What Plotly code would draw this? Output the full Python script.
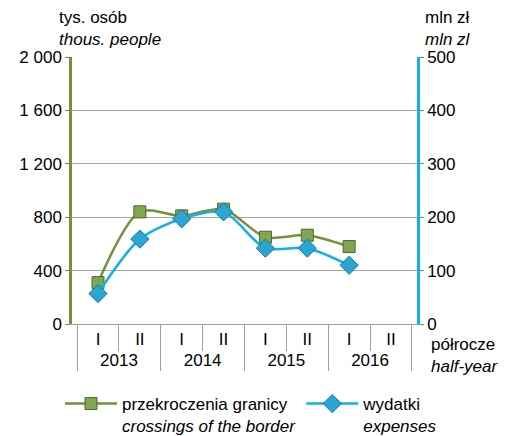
import plotly.graph_objects as go

years = ["2013", "2013", "2014", "2014", "2015", "2015", "2016", "2016"]
halves = ["I", "II", "I", "II", "I", "II", "I", "II"]
crossings = [310, 840, 810, 860, 650, 665, 580, None]
expenses = [57, 159, 197, 210, 142, 142, 110, None]
left_ticks = [0, 400, 800, 1200, 1600, 2000]
left_labels = ["0", "400", "800", "1 200", "1 600", "2 000"]
right_ticks = [0, 100, 200, 300, 400, 500]

GREEN = "#739138"
BLUE = "#12b0e8"
FONT = "Liberation Sans, Arial, sans-serif"
FS = 17

fig = go.Figure()
fig.add_trace(go.Scatter(
    x=[years, halves], y=crossings, mode="lines+markers",
    name="przekroczenia granicy<br><i>crossings of the border</i>",
    line=dict(color=GREEN, width=2.5, shape="spline", smoothing=0.8),
    marker=dict(symbol="square", size=12, color="#7fa650",
                line=dict(color="#4a6a2a", width=1)),
    yaxis="y"))
fig.add_trace(go.Scatter(
    x=[years, halves], y=expenses, mode="lines+markers",
    name="wydatki<br><i>expenses</i>",
    line=dict(color=BLUE, width=2.5, shape="spline", smoothing=0.8),
    marker=dict(symbol="diamond", size=14, color="#2aa6d6",
                line=dict(color="#1a7aa0", width=1)),
    yaxis="y2"))

# page body has an 8px default margin; work in viewport pixels
OFF = 8
W, H = 506 - OFF, 436 - OFF
X0, X1, Y0, Y1 = 72, 417, 57, 324  # plot area in viewport pixels
L, R, T, B = X0 - OFF, W - (X1 - OFF), Y0 - OFF, H - (Y1 - OFF)
pw = X1 - X0
ph = Y1 - Y0
def px(x): return (x - X0) / pw
def py(y): return (Y1 - y) / ph

fig.update_layout(
    width=W, height=H,
    margin=dict(l=L, r=R, t=T, b=B, autoexpand=False),
    paper_bgcolor="white", plot_bgcolor="white",
    font=dict(family=FONT, size=FS, color="black"),
    showlegend=True,
    legend=dict(orientation="h", x=px(60), y=py(386), xanchor="left", yanchor="top",
                font=dict(size=FS), itemwidth=52, tracegroupgap=0, valign="top",
                bgcolor="rgba(0,0,0,0)"),
    xaxis=dict(type="multicategory", showline=True, linecolor="#a0a0a0", linewidth=1,
               ticks="outside", tickcolor="#a0a0a0", ticklen=26, tickson="boundaries",
               dividercolor="#a0a0a0", dividerwidth=1, showgrid=False,
               tickfont=dict(size=FS), automargin=False),
    yaxis=dict(range=[0, 2000], tickvals=left_ticks, ticktext=left_labels,
               showline=True, linecolor=GREEN, linewidth=2.5, gridcolor="#a6a6a6",
               gridwidth=1, ticks="outside", ticklen=4, tickcolor=GREEN, zeroline=False,
               automargin=False),
    yaxis2=dict(range=[0, 500], tickvals=right_ticks, overlaying="y", side="right",
                showline=True, linecolor=BLUE, linewidth=2.5, showgrid=False,
                ticks="outside", ticklen=4, tickcolor=BLUE, zeroline=False,
                automargin=False),
    annotations=[
        dict(text="tys. osób<br><i>thous. people</i>", x=px(57), y=py(6), xref="paper", yref="paper",
             xanchor="left", yanchor="top", align="left", showarrow=False, font=dict(size=FS)),
        dict(text="mln zł<br><i>mln zl</i>", x=px(473), y=py(6), xref="paper", yref="paper",
             xanchor="right", yanchor="top", align="right", showarrow=False, font=dict(size=FS)),
        dict(text="półrocze<br><i>half-year</i>", x=px(429), y=py(333), xref="paper", yref="paper",
             xanchor="left", yanchor="top", align="left", showarrow=False, font=dict(size=FS)),
    ],
)

fig.write_html("out.html")
